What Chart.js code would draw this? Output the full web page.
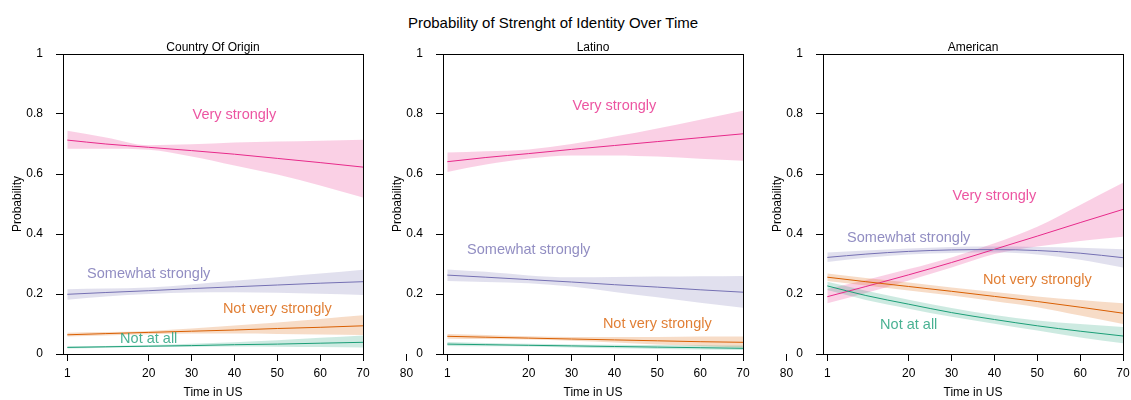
<!DOCTYPE html>
<html>
<head>
<meta charset="utf-8">
<title>Strenght of Identity</title>
<script src="https://cdn.jsdelivr.net/npm/chart.js@4.4.1/dist/chart.umd.min.js"></script>
<style>
  html, body { margin: 0; padding: 0; background: #fff; }
  #wrap { position: relative; width: 1131px; height: 400px; overflow: hidden; }
  #wrap canvas { position: absolute; top: 0; }
  #titulo { position: absolute; left: 0; width: 1106px; top: 14px; text-align: center;
            font: 15px "Liberation Sans", Arial, sans-serif; color: #000; }
</style>
</head>
<body>
<div id="wrap">
  <div id="titulo">Probability of Strenght of Identity Over Time</div>
  <canvas id="panel0" width="440" height="400" style="left:0px"></canvas>
  <canvas id="panel1" width="440" height="400" style="left:380px"></canvas>
  <canvas id="panel2" width="440" height="400" style="left:760px"></canvas>
</div>
<script>
var timeInUS = [1, 10, 20, 30, 40, 50, 60, 70];
var xTicks = [1, 20, 30, 40, 50, 60, 70];
var xTickExtra = 80;
var yTicks = [0, 0.2, 0.4, 0.6, 0.8, 1];
var niveles = ['Not at all', 'Not very strongly', 'Somewhat strongly', 'Very strongly'];
var paneles = ['Country Of Origin', 'Latino', 'American'];

// Country Of Origin: predicted probability and interval, one row per level
var originFit = [
    [0.022, 0.024, 0.026, 0.028, 0.031, 0.033, 0.036, 0.039],
    [0.064, 0.068, 0.072, 0.076, 0.080, 0.085, 0.089, 0.094],
    [0.199, 0.205, 0.211, 0.218, 0.224, 0.230, 0.236, 0.241],
    [0.713, 0.700, 0.689, 0.678, 0.666, 0.652, 0.638, 0.623]
];
var originLow = [
    [0.018, 0.021, 0.023, 0.024, 0.025, 0.024, 0.023, 0.022],
    [0.058, 0.062, 0.066, 0.068, 0.068, 0.067, 0.065, 0.063],
    [0.181, 0.192, 0.200, 0.205, 0.206, 0.204, 0.201, 0.197],
    [0.684, 0.684, 0.681, 0.658, 0.628, 0.598, 0.562, 0.522]
];
var originHigh = [
    [0.026, 0.027, 0.030, 0.034, 0.039, 0.046, 0.054, 0.062],
    [0.071, 0.073, 0.077, 0.085, 0.095, 0.105, 0.117, 0.129],
    [0.216, 0.218, 0.222, 0.232, 0.244, 0.256, 0.268, 0.281],
    [0.744, 0.722, 0.696, 0.699, 0.705, 0.708, 0.711, 0.714]
];
var originLabelX = [20, 50, 20, 40];
var originLabelY = [0.049, 0.149, 0.266, 0.796];

// Latino
var latinoFit = [
    [0.033, 0.031, 0.029, 0.027, 0.025, 0.023, 0.021, 0.019],
    [0.059, 0.056, 0.053, 0.050, 0.047, 0.044, 0.041, 0.039],
    [0.263, 0.256, 0.248, 0.240, 0.231, 0.223, 0.214, 0.206],
    [0.641, 0.655, 0.668, 0.682, 0.695, 0.708, 0.721, 0.734]
];
var latinoLow = [
    [0.027, 0.026, 0.025, 0.022, 0.019, 0.017, 0.015, 0.013],
    [0.051, 0.050, 0.048, 0.044, 0.038, 0.032, 0.027, 0.022],
    [0.243, 0.240, 0.236, 0.225, 0.207, 0.189, 0.171, 0.154],
    [0.607, 0.632, 0.652, 0.662, 0.662, 0.658, 0.651, 0.644]
];
var latinoHigh = [
    [0.040, 0.037, 0.034, 0.032, 0.031, 0.030, 0.029, 0.028],
    [0.067, 0.063, 0.059, 0.057, 0.057, 0.057, 0.058, 0.058],
    [0.282, 0.274, 0.262, 0.256, 0.257, 0.258, 0.259, 0.260],
    [0.672, 0.676, 0.682, 0.700, 0.725, 0.752, 0.781, 0.811]
];
var latinoLabelX = [null, 50, 20, 40];
var latinoLabelY = [null, 0.099, 0.347, 0.826];

// American
var americanFit = [
    [0.227, 0.195, 0.166, 0.138, 0.115, 0.094, 0.076, 0.060],
    [0.256, 0.241, 0.225, 0.209, 0.192, 0.175, 0.156, 0.136],
    [0.322, 0.333, 0.342, 0.347, 0.348, 0.345, 0.336, 0.321],
    [0.191, 0.225, 0.264, 0.305, 0.349, 0.393, 0.438, 0.482]
];
var americanLow = [
    [0.213, 0.180, 0.151, 0.124, 0.101, 0.078, 0.055, 0.036],
    [0.243, 0.228, 0.212, 0.195, 0.176, 0.156, 0.128, 0.100],
    [0.307, 0.321, 0.332, 0.337, 0.338, 0.332, 0.314, 0.288],
    [0.169, 0.203, 0.245, 0.288, 0.333, 0.358, 0.377, 0.391]
];
var americanHigh = [
    [0.241, 0.211, 0.181, 0.153, 0.130, 0.112, 0.100, 0.090],
    [0.268, 0.253, 0.238, 0.222, 0.207, 0.192, 0.180, 0.169],
    [0.338, 0.345, 0.352, 0.357, 0.358, 0.357, 0.354, 0.349],
    [0.217, 0.247, 0.283, 0.322, 0.369, 0.424, 0.497, 0.571]
];
var americanLabelX = [20, 50, 20, 40];
var americanLabelY = [0.097, 0.247, 0.386, 0.527];

// Dark2
var colores = ['27, 158, 119', '217, 95, 2', '117, 112, 179', '231, 41, 138'];

Chart.defaults.font.family = '"Liberation Sans", Arial, Helvetica, sans-serif';
Chart.defaults.font.size = 12;
Chart.defaults.color = '#000';

var Puntos = function (ys) {
    return timeInUS.map(function (x, k) { return { x: x, y: ys[k] }; });
};

var CrearDatasets = function (fit, low, high) {
    var ds = [];
    for (var i = 0; i < niveles.length; i++) {
        ds.push({
            label: niveles[i] + ' upper',
            data: Puntos(high[i]),
            fill: '+1',
            backgroundColor: 'rgba(' + colores[i] + ', 0.22)',
            borderColor: 'rgba(0,0,0,0)',
            borderWidth: 0,
            pointRadius: 0,
            cubicInterpolationMode: 'monotone',
            order: 1
        });
        ds.push({
            label: niveles[i] + ' lower',
            data: Puntos(low[i]),
            fill: false,
            borderColor: 'rgba(0,0,0,0)',
            borderWidth: 0,
            pointRadius: 0,
            cubicInterpolationMode: 'monotone',
            order: 1
        });
        ds.push({
            label: niveles[i],
            data: Puntos(fit[i]),
            fill: false,
            borderColor: 'rgb(' + colores[i] + ')',
            borderWidth: 1,
            pointRadius: 0,
            cubicInterpolationMode: 'monotone',
            order: 0
        });
    }
    return ds;
};

// box, panel title, in-plot level labels and the stray 80 tick
var extras = {
    id: 'extras',
    afterDraw: function (chart) {
        var ctx = chart.ctx;
        var a = chart.chartArea;
        var xs = chart.scales.x;
        var ys = chart.scales.y;
        var o = chart.options.plugins.extras;
        ctx.save();
        ctx.strokeStyle = '#000';
        ctx.lineWidth = 1;
        ctx.strokeRect(a.left + 0.5, a.top + 0.5, a.right - a.left, a.bottom - a.top);

        ctx.fillStyle = '#000';
        ctx.font = '12px "Liberation Sans", Arial, sans-serif';
        ctx.textAlign = 'center';
        ctx.textBaseline = 'middle';
        ctx.fillText(o.titulo, (a.left + a.right) / 2, a.top - 6);

        var px = Math.round(xs.getPixelForValue(xTickExtra)) + 0.5;
        ctx.beginPath();
        ctx.moveTo(px, a.bottom);
        ctx.lineTo(px, a.bottom + 7);
        ctx.stroke();
        ctx.fillText(String(xTickExtra), px, a.bottom + 20);

        ctx.font = '14.5px "Liberation Sans", Arial, sans-serif';
        for (var i = 0; i < niveles.length; i++) {
            if (o.labelX[i] == null) continue;
            ctx.fillStyle = 'rgba(' + colores[i] + ', 0.8)';
            ctx.fillText(niveles[i], xs.getPixelForValue(o.labelX[i]), ys.getPixelForValue(o.labelY[i]));
        }
        ctx.restore();
    }
};

var CrearPanel = function (id, titulo, fit, low, high, labelX, labelY) {
    return new Chart(document.getElementById(id), {
        type: 'line',
        data: { datasets: CrearDatasets(fit, low, high) },
        plugins: [extras],
        options: {
            responsive: false,
            animation: false,
            events: [],
            layout: { padding: { left: 0, right: 77, top: 54, bottom: 0 } },
            plugins: {
                legend: { display: false },
                tooltip: { enabled: false },
                title: { display: false },
                filler: { propagate: false },
                extras: { titulo: titulo, labelX: labelX, labelY: labelY }
            },
            scales: {
                x: {
                    type: 'linear',
                    min: 0,
                    max: 70,
                    afterBuildTicks: function (s) {
                        s.ticks = xTicks.map(function (v) { return { value: v }; });
                    },
                    afterFit: function (s) { s.height = 46; },
                    border: { display: false },
                    grid: { drawOnChartArea: false, color: '#000', tickColor: '#000', tickLength: 7 },
                    ticks: {
                        autoSkip: false,
                        maxRotation: 0,
                        padding: 5,
                        color: '#000',
                        callback: function (v) { return String(v); }
                    },
                    title: { display: true, text: 'Time in US', color: '#000', padding: { top: 0, bottom: 0 } }
                },
                y: {
                    type: 'linear',
                    min: 0,
                    max: 1,
                    afterBuildTicks: function (s) {
                        s.ticks = yTicks.map(function (v) { return { value: v }; });
                    },
                    afterFit: function (s) { s.width = 63; },
                    border: { display: false },
                    grid: { drawOnChartArea: false, color: '#000', tickColor: '#000', tickLength: 7 },
                    ticks: {
                        padding: 13,
                        color: '#000',
                        callback: function (v) { return (v === 0 || v === 1) ? String(v) : v.toFixed(1); }
                    },
                    title: { display: true, text: 'Probability', color: '#000', padding: { top: 10, bottom: 0 } }
                }
            }
        }
    });
};

CrearPanel('panel0', paneles[0], originFit, originLow, originHigh, originLabelX, originLabelY);
CrearPanel('panel1', paneles[1], latinoFit, latinoLow, latinoHigh, latinoLabelX, latinoLabelY);
CrearPanel('panel2', paneles[2], americanFit, americanLow, americanHigh, americanLabelX, americanLabelY);
</script>
</body>
</html>
